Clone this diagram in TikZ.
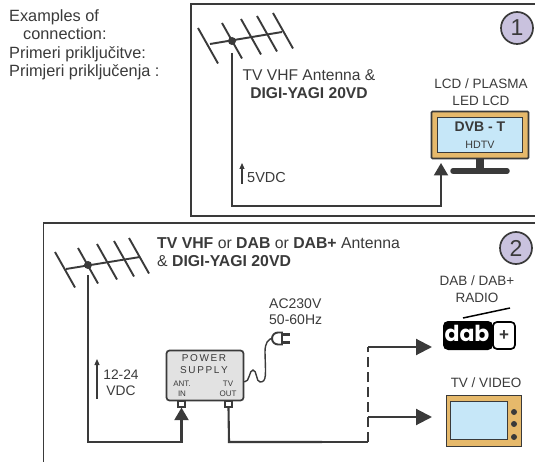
\documentclass[tikz,border=0pt]{standalone}
\usepackage{xcolor}
\usepackage{fontspec}
\setmainfont{Liberation Sans}
\newfontfamily\dabfont{Poppins}
\usetikzlibrary{arrows.meta, positioning, calc}
\definecolor{inkgray}{HTML}{3A3A3A}
\definecolor{framegold}{HTML}{E6B96B}
\definecolor{screenblue}{HTML}{C6E7F8}
\definecolor{badgeviolet}{HTML}{C9C2DE}
\definecolor{boxgray}{HTML}{E2E2E2}
\begin{document}
\begin{tikzpicture}[x=1pt, y=-1pt, inkgray,
    every node/.style={inner sep=0pt, font=\fontsize{13.5}{17}\selectfont, text=inkgray},
    frameline/.style={line width=1.7pt},
    element/.style={line width=1.9pt},
    cable/.style={line width=2.1pt, -{Triangle[length=12.5pt, width=14pt]}},
    plaincable/.style={line width=2.1pt},
    feeder/.style={line width=2.1pt, -{Triangle[length=16pt, width=16pt]}},
    hint/.style={line width=1.1pt, -{Triangle[length=6pt, width=5pt]}},
    badge/.style={circle, draw, line width=1.7pt, fill=badgeviolet, minimum size=32pt, font=\fontsize{23}{23}\selectfont},
    lbl/.style={align=center},
    portbox/.style={draw, line width=1.7pt, fill=white, minimum width=7pt, minimum height=5.5pt}]
    \useasboundingbox (0,0) rectangle (535,462);

    \node[anchor=west, align=left, font=\fontsize{16.3}{18.5}\selectfont] (intro) at (9,45) {Examples of\\\hspace{14pt}connection:\\Primeri priključitve:\\Primjeri priključenja :};

    % first example
    \draw[frameline] (535,4) -- (191,4) -- (191,216) -- (535,216);
    \node[badge] (one) at (517,28) {1};
    \foreach \a/\b in {198/28, 222/23, 241/19, 257/16, 273/13}
        \draw[element] (\a,\b) -- ++(20,35.5);
    \draw[element] (210,44) -- (282,32);
    \node[circle, fill=inkgray, minimum size=8pt] (feedone) at (232,41) {};
    \node[lbl, font=\fontsize{15.6}{18}\selectfont] (anttext) at (309,84) {TV VHF Antenna \&\\\textbf{DIGI-YAGI 20VD}};
    \node[lbl] (lcdtext) at (481,92.5) {LCD / PLASMA\\LED LCD};
    \draw[line width=8pt] (480,159) -- (480,170);
    \draw[line width=5.5pt, line cap=round] (453,171) -- (507,171);
    \node[draw, line width=1.7pt, fill=framegold, minimum width=97pt, minimum height=47pt, rounded corners=1pt] (tvone) at (480,135) {};
    \node[draw, line width=1.7pt, fill=screenblue, minimum width=85pt, minimum height=35pt, align=center] (screenone) at (tvone.center) {\textbf{\fontsize{14}{15}\selectfont DVB - T}\\[0pt]\fontsize{10.7}{11}\selectfont HDTV};
    \coordinate (downone) at (232,206);
    \coordinate (tipone) at (441,163);
    \draw[cable] (232,53) -- (downone) -| (tipone);
    \draw[hint] (242,184) -- (242,163);
    \node[anchor=west, lbl, font=\fontsize{14.5}{17}\selectfont] (fivev) at (247,178) {5VDC};

    % second example
    \draw[frameline] (535,223) -- (43.5,223) -- (43.5,462);
    \node[badge] (two) at (516,248) {2};
    \foreach \a/\b in {55/252, 78/248, 97/244, 114/241, 129/238}
        \draw[element] (\a,\b) -- ++(20,35.5);
    \draw[element] (66,269) -- (140,257);
    \node[circle, fill=inkgray, minimum size=8pt] (feedtwo) at (88,265) {};
    \node[anchor=west, align=left, font=\fontsize{15.8}{18}\selectfont] (anttwo) at (157,252) {\textbf{TV VHF} or \textbf{DAB} or \textbf{DAB+} Antenna\\\& \textbf{DIGI-YAGI 20VD}};
    \node[lbl, font=\fontsize{13.8}{16}\selectfont] (voltv) at (121,383) {12-24\\VDC};
    \draw[hint] (97,399) -- (97,359);
    \node[anchor=west, align=left, font=\fontsize{14}{16}\selectfont] (mains) at (269,312) {AC230V\\50-60Hz};

    \node[draw, line width=1.7pt, fill=boxgray, rounded corners=3pt, minimum width=77pt, minimum height=50pt] (supply) at (205,375.5) {};
    \node[align=center, font=\fontsize{10}{12}\selectfont] (supplytext) at (204,364) {P\,O\,W\,E\,R\\S\,U\,P\,P\,L\,Y};
    \node[align=center, font=\fontsize{8}{10}\selectfont] (anttag) at (182,389) {ANT.\\IN};
    \node[align=center, font=\fontsize{8}{10}\selectfont] (outtag) at (228,389) {TV\\OUT};
    \node[portbox] (portin) at (181.5,404) {};
    \node[portbox] (portout) at (228.5,404) {};

    % mains lead and plug
    \draw[line width=1.4pt] (supply.east |- 0,382) .. controls (250,382) and (249,370) .. (253,370)
        .. controls (257,370) and (256,382) .. (260,382) .. controls (267,382) and (265.5,375) .. (265,352)
        .. controls (265,343) and (268,339) .. (273,338);
    \draw[line width=1.9pt, fill=white] (282,332.5) -- (278,332.5) arc[start angle=90, end angle=270, radius=6pt] -- (282,344.5) -- cycle;
    \draw[line width=2.6pt] (281,334.5) -- (290,334.5) (281,342.5) -- (290,342.5);

    % cables to the outputs
    \coordinate (lowin) at (88,442);
    \coordinate (lowout) at (229,442);
    \coordinate (thinpart) at (322,442);
    \coordinate (branch) at (368,442);
    \coordinate (uppersplit) at (368,347);
    \coordinate (lowersplit) at (368,417);
    \draw[cable] (feedtwo.south |- 0,275) -- (lowin) -| (portin.south);
    \draw[plaincable] (portout.south) -- (lowout) -- (thinpart);
    \draw[line width=1.3pt] (thinpart) -- (branch);
    \draw[plaincable, dash pattern=on 10pt off 5pt] (branch) -- (uppersplit);

    \node[lbl] (radiotext) at (477,289.5) {DAB / DAB+\\RADIO};
    \node[fill=black, rounded corners=5pt, minimum width=50pt, minimum height=29pt] (dabblack) at (468,335.5) {};
    \node[draw=black, line width=1.7pt, rounded corners=4pt, fill=white, minimum width=22pt, minimum height=27pt] (dabplus) at (504,335.5) {\textbf{\fontsize{17}{17}\selectfont +}};
    \node[text=white, font=\dabfont\bfseries\fontsize{22}{22}\selectfont] (dabword) at (467,333) {dab};
    \draw[line width=1.5pt, black] (463,318) -- (510,308);
    \coordinate (radioin) at (432,347);
    \draw[feeder] (uppersplit) -- (radioin);

    \node[lbl] (videotext) at (486,383) {TV / VIDEO};
    \node[draw, line width=1.7pt, fill=framegold, minimum width=75pt, minimum height=51pt] (tvtwo) at (484,421) {};
    \node[draw, line width=1.7pt, fill=screenblue, minimum width=57pt, minimum height=38pt] (screentwo) at (479,420.5) {};
    \foreach \k [count=\i] in {412,424,437}
        \node[circle, fill=inkgray, minimum size=6pt] (knob\i) at (514,\k) {};
    \coordinate (videoin) at (432,417);
    \draw[feeder] (lowersplit) -- (videoin);
\end{tikzpicture}
\end{document}
